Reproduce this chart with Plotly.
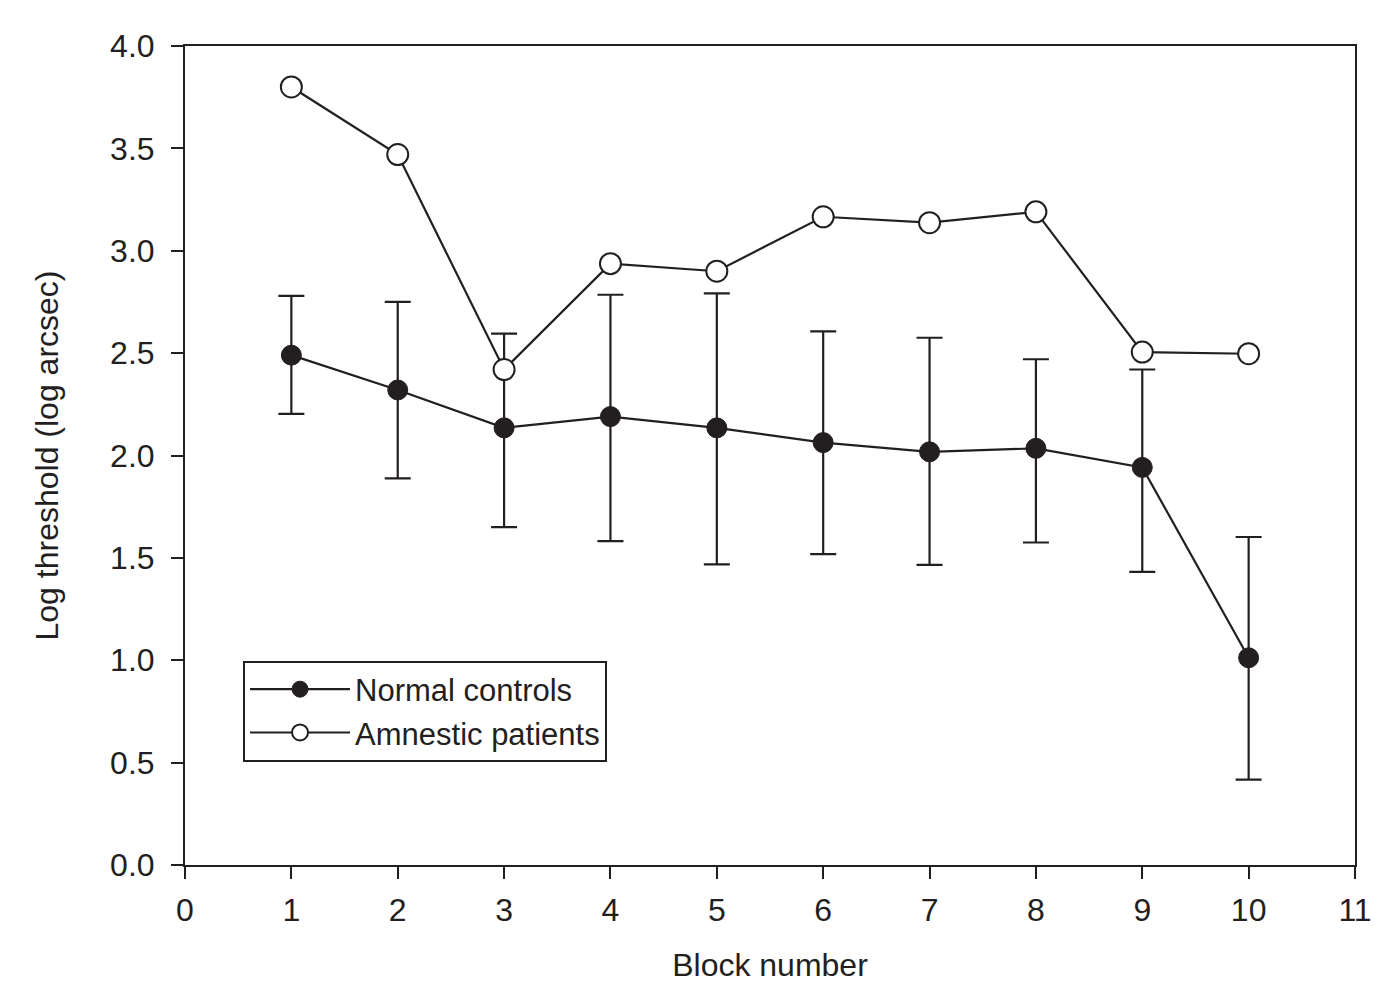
import plotly.graph_objects as go

blocks = [1, 2, 3, 4, 5, 6, 7, 8, 9, 10]
normal = [2.49, 2.32, 2.135, 2.19, 2.135, 2.063, 2.018, 2.035, 1.942, 1.012]
normal_err_up = [0.29, 0.43, 0.46, 0.595, 0.657, 0.543, 0.557, 0.435, 0.478, 0.59]
normal_err_down = [0.287, 0.432, 0.485, 0.608, 0.667, 0.545, 0.552, 0.46, 0.51, 0.595]
amnestic = [3.80, 3.47, 2.42, 2.937, 2.90, 3.166, 3.137, 3.19, 2.505, 2.497]

x_ticks = list(range(0, 12))
y_ticks = [0.0, 0.5, 1.0, 1.5, 2.0, 2.5, 3.0, 3.5, 4.0]

ink = "#231f20"
font_family = "Liberation Sans, Arial, sans-serif"
fs = 32

fig = go.Figure()
fig.add_trace(go.Scatter(
    x=blocks, y=normal, mode="lines+markers", name="Normal controls",
    line=dict(color=ink, width=2.2),
    marker=dict(symbol="circle", size=20, color=ink, line=dict(color=ink, width=1)),
    error_y=dict(type="data", symmetric=False, array=normal_err_up,
                 arrayminus=normal_err_down, color=ink, thickness=2.2, width=13),
))
fig.add_trace(go.Scatter(
    x=blocks, y=amnestic, mode="lines+markers", name="Amnestic patients",
    line=dict(color=ink, width=2.2),
    marker=dict(symbol="circle", size=21, color="white", line=dict(color=ink, width=2)),
))

fig.update_layout(
    width=1382, height=988,
    margin=dict(l=177, r=35, t=38, b=131),
    paper_bgcolor="white", plot_bgcolor="white",
    font=dict(family=font_family, size=fs, color=ink),
    showlegend=True,
    legend=dict(
        x=0.0496, y=0.188, xanchor="left", yanchor="middle",
        bordercolor=ink, borderwidth=2, bgcolor="white",
        font=dict(size=31, color=ink),
        itemwidth=100, tracegroupgap=0,
    ),
)
fig.update_xaxes(
    range=[0, 11], tickvals=x_ticks, ticktext=[str(t) for t in x_ticks],
    showgrid=False, zeroline=False,
    showline=True, linecolor=ink, linewidth=2, mirror=True,
    ticks="outside", ticklen=12, tickwidth=2, tickcolor=ink,
    tickfont=dict(size=fs, color=ink), ticklabelstandoff=4,
    title=dict(text="Block number", font=dict(size=fs, color=ink), standoff=26),
)
fig.update_yaxes(
    range=[0, 4], tickvals=y_ticks, ticktext=[f"{t:.1f}" for t in y_ticks],
    showgrid=False, zeroline=False,
    showline=True, linecolor=ink, linewidth=2, mirror=True,
    ticks="outside", ticklen=12, tickwidth=2, tickcolor=ink,
    tickfont=dict(size=fs, color=ink), ticklabelstandoff=10,
    title=dict(text="Log threshold (log arcsec)", font=dict(size=fs, color=ink), standoff=42),
)

fig.write_html("out.html")
